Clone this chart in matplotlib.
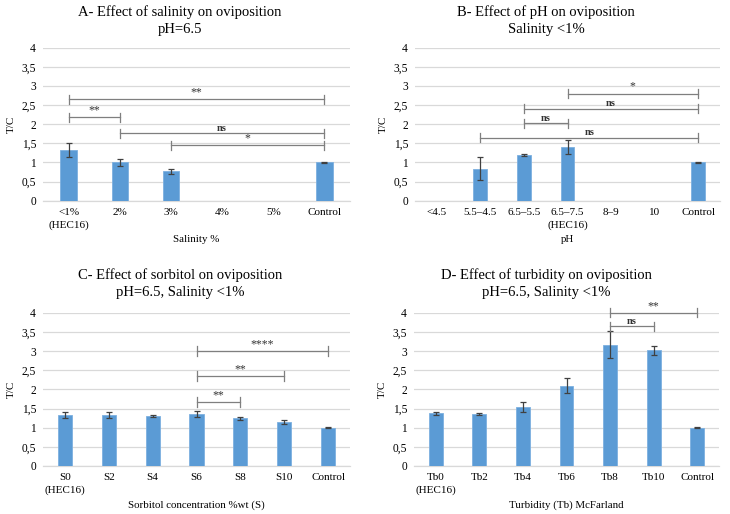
import numpy as np
import matplotlib
matplotlib.use("Agg")
import matplotlib.pyplot as plt

plt.rcParams['font.family'] = ['Liberation Serif', 'DejaVu Serif']

# ---------------- data ----------------
a_cats = ["<1%\n(HEC16)", "2%", "3%", "4%", "5%", "Control"]
a_vals = [1.32, 1.00, 0.77, np.nan, np.nan, 1.00]
a_errs = [0.18, 0.10, 0.07, np.nan, np.nan, 0.01]
a_sig = [(0, 5, 2.65, "**"), (0, 1, 2.18, "**"), (1, 5, 1.76, "ns"), (2, 5, 1.45, "*")]

b_cats = ["<4.5", "5.5\u20134.5", "6.5\u20135.5", "6.5\u20137.5\n(HEC16)", "8\u20139", "10", "Control"]
b_vals = [np.nan, 0.84, 1.19, 1.41, np.nan, np.nan, 1.00]
b_errs = [np.nan, 0.30, 0.03, 0.18, np.nan, np.nan, 0.01]
b_sig = [(3, 6, 2.80, "*"), (2, 6, 2.40, "ns"), (2, 3, 2.02, "ns"), (1, 6, 1.65, "ns")]

c_cats = ["S0\n(HEC16)", "S2", "S4", "S6", "S8", "S10", "Control"]
c_vals = [1.33, 1.32, 1.30, 1.36, 1.25, 1.15, 1.00]
c_errs = [0.08, 0.08, 0.03, 0.08, 0.04, 0.05, 0.01]
c_sig = [(3, 6, 3.00, "****"), (3, 5, 2.35, "**"), (3, 4, 1.67, "**")]

d_cats = ["Tb0\n(HEC16)", "Tb2", "Tb4", "Tb6", "Tb8", "Tb10", "Control"]
d_vals = [1.37, 1.36, 1.55, 2.10, 3.17, 3.02, 1.00]
d_errs = [0.03, 0.03, 0.13, 0.20, 0.35, 0.12, 0.01]
d_sig = [(4, 6, 4.00, "**"), (4, 5, 3.64, "ns")]

yticks = [0, 0.5, 1, 1.5, 2, 2.5, 3, 3.5, 4]
ytick_labels = ["0", "0,5", "1", "1,5", "2", "2,5", "3", "3,5", "4"]

panels = [
    dict(cats=a_cats, vals=a_vals, errs=a_errs, sig=a_sig,
         title="A- Effect of salinity on oviposition\npH=6.5", xlabel="Salinity %",
         rect=[43/730, 1-200.7/514, 307/730, 153/514], tx=180/730, ty=1-5.5/514),
    dict(cats=b_cats, vals=b_vals, errs=b_errs, sig=b_sig,
         title="B- Effect of pH on oviposition\nSalinity <1%", xlabel="pH",
         rect=[415/730, 1-200.7/514, 305/730, 153/514], tx=546/730, ty=1-5.5/514),
    dict(cats=c_cats, vals=c_vals, errs=c_errs, sig=c_sig,
         title="C- Effect of sorbitol on oviposition\npH=6.5, Salinity <1%", xlabel="Sorbitol concentration %wt (S)",
         rect=[43/730, 1-466/514, 307/730, 153.3/514], tx=180/730, ty=1-268.5/514),
    dict(cats=d_cats, vals=d_vals, errs=d_errs, sig=d_sig,
         title="D- Effect of turbidity on oviposition\npH=6.5, Salinity <1%", xlabel="Turbidity (Tb) McFarland",
         rect=[414/730, 1-466/514, 305/730, 153.3/514], tx=546/730, ty=1-268.5/514),
]

fig = plt.figure(figsize=(7.30, 5.14), dpi=100)

for p in panels:
    ax = fig.add_axes(p["rect"])
    x = np.arange(len(p["cats"]))
    ax.bar(x, p["vals"], width=0.32, color="#5B9BD5", edgecolor="#7DB0E0", linewidth=0.6, zorder=3)
    ax.errorbar(x, p["vals"], yerr=p["errs"], fmt="none", ecolor="#404040",
                elinewidth=0.9, capsize=2.2, capthick=0.9, zorder=4)
    ax.set_xlim(-0.5, len(p["cats"]) - 0.5)
    ax.set_ylim(0, 4)
    ax.set_yticks(yticks)
    ax.set_yticklabels(ytick_labels, fontsize=8.3)
    ax.set_xticks(x)
    ax.set_xticklabels(p["cats"], fontsize=8, linespacing=1.45)
    ax.tick_params(length=0, pad=5)
    ax.grid(axis="y", color="#D9D9D9", linewidth=0.9, zorder=0)
    for s in ["top", "right", "left"]:
        ax.spines[s].set_visible(False)
    ax.spines["bottom"].set_color("#D9D9D9")
    ax.spines["bottom"].set_linewidth(0.9)
    ax.set_ylabel("T/C", fontsize=8, labelpad=4)
    ax.set_xlabel(p["xlabel"], fontsize=7.8, labelpad=4)
    for (i, j, y, lab) in p["sig"]:
        ax.plot([i, j], [y, y], color="#7F7F7F", linewidth=0.9, zorder=5, clip_on=False)
        for e in (i, j):
            ax.plot([e, e], [y - 0.12, y + 0.12], color="#7F7F7F", linewidth=0.9, zorder=5, clip_on=False)
        ax.text((i + j) / 2, y + 0.02, lab, ha="center", va="bottom",
                fontsize=7.5 if lab == "ns" else 8.5,
                fontweight="bold" if lab == "ns" else "normal", color="#333333", zorder=6)
    fig.text(p["tx"], p["ty"], p["title"], ha="center", va="top", fontsize=10.5, linespacing=1.35)

fig.savefig("out.png", dpi=100)
